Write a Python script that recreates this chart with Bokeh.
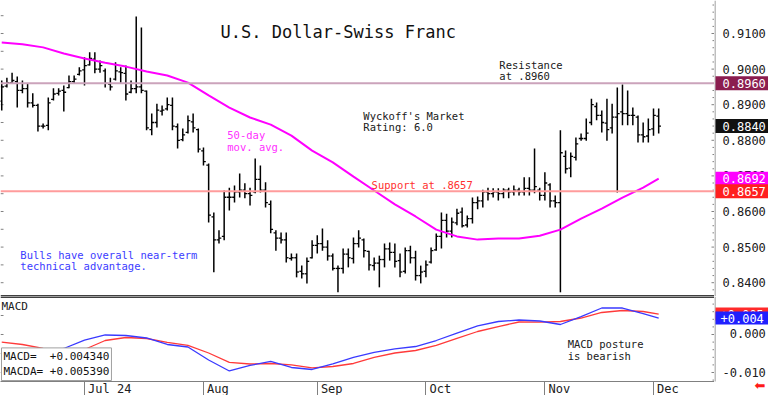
from bokeh.plotting import figure
from bokeh.layouts import column, row
from bokeh.models import (Range1d, FixedTicker, Label, Span)
from bokeh.core.properties import value
from bokeh.embed import file_html
from bokeh.resources import INLINE

# ---------------- data ----------------
# bar index 0 = Jun 10 2024 (weekday count); Jul 1 = 16
highs = [0.8968, 0.8976, 0.8990, 0.8979, 0.8968, 0.8960, 0.8932, 0.8903, 0.8847, 0.8920,
         0.8946, 0.8946, 0.8954, 0.8982, 0.8982, 0.9005, 0.9033, 0.9047, 0.9047, 0.9024,
         0.9002, 0.8976, 0.9019, 0.9005, 0.9010, 0.8968, 0.9148, 0.9117, 0.8940, 0.8875,
         0.8903, 0.8898, 0.8920, 0.8920, 0.8847, 0.8833, 0.8870, 0.8875, 0.8833, 0.8780,
         0.8735, 0.8597, 0.8547, 0.8659, 0.8667, 0.8673, 0.8707, 0.8679, 0.8667, 0.8749,
         0.8729, 0.8682, 0.8631, 0.8547, 0.8541, 0.8541, 0.8482, 0.8482, 0.8448, 0.8471,
         0.8519, 0.8533, 0.8552, 0.8519, 0.8482, 0.8448, 0.8496, 0.8496, 0.8527, 0.8547,
         0.8524, 0.8490, 0.8471, 0.8476, 0.8510, 0.8513, 0.8510, 0.8482, 0.8499, 0.8504,
         0.8490, 0.8448, 0.8462, 0.8499, 0.8538, 0.8597, 0.8594, 0.8583, 0.8608, 0.8611,
         0.8589, 0.8639, 0.8642, 0.8661, 0.8667, 0.8665, 0.8665, 0.8665, 0.8667, 0.8673,
         0.8667, 0.8696, 0.8696, 0.8777, 0.8667, 0.8710, 0.8679, 0.8645, 0.8828, 0.8771,
         0.8766, 0.8808, 0.8819, 0.8861, 0.8917, 0.8906, 0.8884, 0.8917, 0.8903, 0.8948,
         0.8957, 0.8940, 0.8892, 0.8870, 0.8850, 0.8861, 0.8889, 0.8889]
lows = [0.8884, 0.8948, 0.8960, 0.8892, 0.8932, 0.8892, 0.8892, 0.8825, 0.8833, 0.8828,
        0.8912, 0.8926, 0.8881, 0.8946, 0.8960, 0.8982, 0.8954, 0.9010, 0.8988, 0.8990,
        0.8948, 0.8940, 0.8968, 0.8962, 0.8912, 0.8932, 0.8932, 0.8932, 0.8828, 0.8814,
        0.8836, 0.8870, 0.8884, 0.8828, 0.8777, 0.8797, 0.8819, 0.8822, 0.8766, 0.8729,
        0.8569, 0.8429, 0.8510, 0.8519, 0.8603, 0.8625, 0.8639, 0.8637, 0.8617, 0.8651,
        0.8653, 0.8611, 0.8539, 0.8490, 0.8510, 0.8457, 0.8462, 0.8415, 0.8412, 0.8398,
        0.8468, 0.8482, 0.8490, 0.8462, 0.8434, 0.8373, 0.8426, 0.8443, 0.8454, 0.8499,
        0.8471, 0.8434, 0.8434, 0.8387, 0.8443, 0.8462, 0.8443, 0.8415, 0.8426, 0.8454,
        0.8406, 0.8398, 0.8415, 0.8454, 0.8490, 0.8496, 0.8527, 0.8527, 0.8561, 0.8555,
        0.8555, 0.8566, 0.8606, 0.8611, 0.8631, 0.8639, 0.8631, 0.8637, 0.8637, 0.8645,
        0.8645, 0.8645, 0.8645, 0.8651, 0.8631, 0.8631, 0.8611, 0.8611, 0.8373, 0.8707,
        0.8696, 0.8743, 0.8799, 0.8799, 0.8842, 0.8856, 0.8822, 0.8799, 0.8819, 0.8653,
        0.8842, 0.8842, 0.8842, 0.8794, 0.8794, 0.8794, 0.8813, 0.8819]
opens = [0.8910, 0.8952, 0.8962, 0.8965, 0.8940, 0.8945, 0.8905, 0.8898, 0.8840, 0.8842,
         0.8915, 0.8932, 0.8940, 0.8948, 0.8965, 0.8985, 0.8998, 0.9012, 0.9028, 0.9000,
         0.8995, 0.8958, 0.8972, 0.8992, 0.8988, 0.8935, 0.8945, 0.8950, 0.8938, 0.8830,
         0.8850, 0.8882, 0.8888, 0.8898, 0.8838, 0.8802, 0.8822, 0.8852, 0.8830, 0.8770,
         0.8730, 0.8585, 0.8520, 0.8530, 0.8640, 0.8640, 0.8655, 0.8660, 0.8650, 0.8655,
         0.8690, 0.8660, 0.8620, 0.8540, 0.8525, 0.8520, 0.8468, 0.8470, 0.8432, 0.8425,
         0.8470, 0.8505, 0.8510, 0.8500, 0.8475, 0.8440, 0.8440, 0.8480, 0.8468, 0.8510,
         0.8520, 0.8488, 0.8448, 0.8455, 0.8465, 0.8495, 0.8485, 0.8462, 0.8432, 0.8490,
         0.8470, 0.8420, 0.8432, 0.8458, 0.8492, 0.8530, 0.8575, 0.8545, 0.8568, 0.8598,
         0.8562, 0.8580, 0.8625, 0.8630, 0.8655, 0.8650, 0.8655, 0.8650, 0.8660, 0.8655,
         0.8660, 0.8655, 0.8665, 0.8660, 0.8660, 0.8645, 0.8675, 0.8630, 0.8625, 0.8755,
         0.8722, 0.8752, 0.8805, 0.8805, 0.8850, 0.8895, 0.8870, 0.8848, 0.8835, 0.8865,
         0.8880, 0.8875, 0.8870, 0.8865, 0.8815, 0.8812, 0.8832, 0.8868]
closes = [0.8950, 0.8962, 0.8968, 0.8940, 0.8945, 0.8905, 0.8898, 0.8840, 0.8840, 0.8905,
          0.8930, 0.8938, 0.8935, 0.8965, 0.8972, 0.8995, 0.9010, 0.9030, 0.9000, 0.9010,
          0.8960, 0.8950, 0.8995, 0.8990, 0.8930, 0.8945, 0.8950, 0.8940, 0.8835, 0.8850,
          0.8885, 0.8885, 0.8900, 0.8840, 0.8800, 0.8815, 0.8855, 0.8835, 0.8775, 0.8740,
          0.8590, 0.8520, 0.8525, 0.8640, 0.8640, 0.8655, 0.8660, 0.8650, 0.8645, 0.8690,
          0.8660, 0.8625, 0.8550, 0.8525, 0.8520, 0.8470, 0.8470, 0.8430, 0.8425, 0.8460,
          0.8505, 0.8510, 0.8500, 0.8475, 0.8440, 0.8440, 0.8480, 0.8470, 0.8510, 0.8525,
          0.8490, 0.8450, 0.8455, 0.8465, 0.8495, 0.8485, 0.8460, 0.8430, 0.8490, 0.8470,
          0.8420, 0.8430, 0.8450, 0.8490, 0.8530, 0.8575, 0.8545, 0.8570, 0.8595, 0.8560,
          0.8580, 0.8625, 0.8630, 0.8655, 0.8650, 0.8655, 0.8650, 0.8660, 0.8655, 0.8660,
          0.8655, 0.8665, 0.8660, 0.8670, 0.8645, 0.8680, 0.8630, 0.8625, 0.8765, 0.8720,
          0.8755, 0.8790, 0.8805, 0.8820, 0.8900, 0.8870, 0.8850, 0.8830, 0.8865, 0.8875,
          0.8875, 0.8870, 0.8870, 0.8815, 0.8810, 0.8830, 0.8870, 0.8840]
bar_index = list(range(len(highs)))

line_index = [0, 4, 8, 12, 16, 20, 24, 28, 32, 36, 40, 44, 48, 52, 56, 60, 64, 68, 72,
              76, 80, 84, 88, 92, 96, 100, 104, 108, 112, 116, 120, 124, 127]
ma50 = [0.9075, 0.9070, 0.9061, 0.9044, 0.9030, 0.9018, 0.9007, 0.8993, 0.8982, 0.8962,
        0.8926, 0.8892, 0.8864, 0.8844, 0.8813, 0.8771, 0.8738, 0.8698, 0.8659, 0.8620,
        0.8586, 0.8549, 0.8530, 0.8521, 0.8524, 0.8524, 0.8532, 0.8549, 0.8580, 0.8608,
        0.8639, 0.8667, 0.8692]
macd = [-0.00395, -0.00421, -0.00552, -0.00368, -0.00150, -0.00013, -0.00026, -0.00092,
        -0.00263, -0.00329, -0.00670, -0.00960, -0.00815, -0.00710, -0.00868, -0.00921,
        -0.00776, -0.00605, -0.00473, -0.00381, -0.00316, -0.00158, 0.00039, 0.00224,
        0.00342, 0.00381, 0.00355, 0.00263, 0.00473, 0.00697, 0.00697, 0.00552, 0.00434]
macda = [-0.00203, -0.00263, -0.00368, -0.00447, -0.00395, -0.00158, -0.00079, -0.00105,
         -0.00210, -0.00289, -0.00487, -0.00736, -0.00776, -0.00763, -0.00802, -0.00881,
         -0.00842, -0.00763, -0.00605, -0.00487, -0.00421, -0.00289, -0.00105, 0.00079,
         0.00210, 0.00329, 0.00324, 0.00342, 0.00434, 0.00579, 0.00631, 0.00605, 0.00539]

month_ticks = [16, 39, 61, 82, 105, 126]
month_labels = ["Jul 24", "Aug", "Sep", "Oct", "Nov", "Dec"]
price_ticks = [0.84, 0.85, 0.86, 0.87, 0.88, 0.89, 0.90, 0.91]
price_tick_labels = ["0.8400", "0.8500", "0.8600", "0.8700", "0.8800", "0.8900", "0.9000", "0.9100"]
price_minor_ticks = [0.836, 0.838, 0.842, 0.844, 0.846, 0.848, 0.852, 0.854, 0.856, 0.858,
                     0.862, 0.864, 0.866, 0.868, 0.872, 0.874, 0.876, 0.878, 0.882, 0.884,
                     0.886, 0.888, 0.892, 0.894, 0.896, 0.898, 0.902, 0.904, 0.906, 0.908,
                     0.912, 0.914, 0.916, 0.918]
price_left_ticks = [0.840, 0.845, 0.850, 0.855, 0.860, 0.865, 0.870, 0.875, 0.880, 0.885,
                    0.890, 0.895, 0.900, 0.905, 0.910, 0.915]
macd_ticks = [-0.01, 0.0]
macd_tick_labels = ["-0.010", "\u00a00.000"]
macd_minor_ticks = [-0.012, -0.008, -0.006, -0.004, -0.002, 0.002, 0.004, 0.006, 0.008]
macd_left_ticks = [-0.010, -0.005, 0.000, 0.005]

resistance = 0.8960
support = 0.8657
last_close = 0.8840
last_ma = 0.8692
last_macd = 0.004340
last_macda = 0.005390

price_tags = [resistance, last_close, last_ma, support]
price_tag_colors = ["#8b1d4f", "#111111", "#ff00ff", "#ff1f1f"]
macd_tags = [last_macda, last_macd]
macd_tag_colors = ["#ff2a2a", "#2020ff"]

# ---------------- layout ----------------
FONT = "DejaVu Sans Mono"
FW = 714
RB = 54
MAIN_H = 296
MACD_H = 85
AX_H = 14
X0, X1 = -0.238, 137.79
AXC = "#808080"
PY0, PY1 = 0.83612, 0.91927
MY0, MY1 = -0.01237, 0.01000
MY0_EXT = MY0 - AX_H * (MY1 - MY0) / MACD_H
UNIT = (X1 - X0) / FW          # data units per pixel along x


def bare(fig):
    fig.outline_line_color = None
    fig.grid.visible = False


def inner_ticks(fig, major, minor):
    # axis ticks pointing into the chart at its right edge
    fig.segment(x0=[X1 - 3 * UNIT] * len(major), y0=major, x1=[X1] * len(major), y1=major,
                line_color=AXC, line_width=1)
    fig.segment(x0=[X1 - 2 * UNIT] * len(minor), y0=minor, x1=[X1] * len(minor), y1=minor,
                line_color=AXC, line_width=1)


# ---- price panel ----
p = figure(frame_width=FW, frame_height=MAIN_H, x_range=Range1d(X0, X1),
           y_range=Range1d(PY0, PY1), output_backend="svg",
           toolbar_location=None, y_axis_location=None, x_axis_location=None,
           min_border_left=0, min_border_right=0, min_border_top=0, min_border_bottom=0)
bare(p)
inner_ticks(p, price_ticks, price_minor_ticks)
p.segment(x0=[X0] * len(price_left_ticks), y0=price_left_ticks,
          x1=[X0 + 3 * UNIT] * len(price_left_ticks), y1=price_left_ticks,
          line_color=AXC, line_width=1)

p.add_layout(Span(location=resistance, dimension="width", line_color="#cba3bb", line_width=2))
p.add_layout(Span(location=support, dimension="width", line_color="#ff9c9c", line_width=2))

p.segment(x0=bar_index, y0=lows, x1=bar_index, y1=highs, line_color="black", line_width=1.5)
p.segment(x0=[i - 0.45 for i in bar_index], y0=opens, x1=bar_index, y1=opens,
          line_color="black", line_width=1.3)
p.segment(x0=bar_index, y0=closes, x1=[i + 0.45 for i in bar_index], y1=closes,
          line_color="black", line_width=1.3)

p.line(line_index, ma50, line_color="#ff00ff", line_width=2)
p.add_layout(Span(location=PY0, dimension="width", line_color="#404040", line_width=3))


def lab(fig, x, y, text, color="#202020", size="10.5px", **kw):
    fig.add_layout(Label(x=x, y=y, text=text, text_color=color, text_font=FONT,
                         text_font_size=size, text_baseline="top", **kw))


lab(p, 42.29, 0.91337, "U.S. Dollar-Swiss Franc", color="#111111", size="17px")
lab(p, 96.2, 0.90270, "Resistance")
lab(p, 96.2, 0.89961, "at .8960")
lab(p, 69.9, 0.88837, "Wyckoff's Market")
lab(p, 69.9, 0.88528, "Rating: 6.0")
lab(p, 43.6, 0.88331, "50-day", color="#ff30ff")
lab(p, 43.6, 0.87994, "mov. avg.", color="#ff30ff")
lab(p, 71.5, 0.86899, "Support at .8657", color="#ff3030")
lab(p, 3.6, 0.84933, "Bulls have overall near-term", color="#3c3cff")
lab(p, 3.6, 0.84624, "technical advantage.", color="#3c3cff")


def strip(height, y_range):
    s = figure(frame_width=RB, frame_height=height, x_range=Range1d(0, RB), y_range=y_range,
               output_backend="svg", toolbar_location=None, x_axis_location=None,
               y_axis_location=None, min_border_left=0, min_border_right=0,
               min_border_top=0, min_border_bottom=0)
    bare(s)
    return s


def scale_text(s, ys, texts, color, x=8):
    s.text(x=[x] * len(ys), y=ys, text=texts, text_font=value(FONT), text_font_size="12px",
           text_color=color, text_baseline="middle", text_align="left")


def tags(s, ys, colors, fmt, h, x=8):
    for yv, c in zip(ys, colors):
        s.rect(x=[RB / 2 + 1], y=[yv], width=RB, height=h, height_units="screen",
               fill_color=c, line_color=None)
        scale_text(s, [yv], [fmt % yv], "white", x=x)


# ---- price scale strip ----
ps = strip(MAIN_H, p.y_range)
ps.segment(x0=[0.5], y0=[PY0], x1=[0.5], y1=[PY1], line_color=AXC, line_width=1)
scale_text(ps, price_ticks, price_tick_labels, "#202020")
tags(ps, price_tags, price_tag_colors, "%.4f", 14)

# ---- MACD panel ----
q = figure(frame_width=FW, frame_height=MACD_H, x_range=p.x_range,
           y_range=Range1d(MY0, MY1), output_backend="svg",
           toolbar_location=None, y_axis_location=None,
           min_border_left=0, min_border_right=0, min_border_top=0, min_border_bottom=AX_H)
bare(q)
inner_ticks(q, macd_ticks, macd_minor_ticks)
q.segment(x0=[X0] * len(macd_left_ticks), y0=macd_left_ticks,
          x1=[X0 + 3 * UNIT] * len(macd_left_ticks), y1=macd_left_ticks,
          line_color=AXC, line_width=1)

xa = q.xaxis[0]
xa.ticker = FixedTicker(ticks=month_ticks, minor_ticks=[])
xa.major_label_overrides = {t: "\u00a0" * (len(s) + 1) + s for t, s in zip(month_ticks, month_labels)}
xa.axis_line_color = AXC
xa.major_tick_line_color = AXC
xa.major_tick_in = 0
xa.major_tick_out = 14
xa.minor_tick_out = 0
xa.major_label_standoff = -14
xa.major_label_text_font = FONT
xa.major_label_text_font_size = "12px"
xa.major_label_text_color = "#202020"

q.add_layout(Span(location=MY1, dimension="width", line_color="#404040", line_width=3))
q.line(line_index, macda, line_color="#ff3a3a", line_width=1.3)
q.line(line_index, macd, line_color="#3a3aff", line_width=1.3)

lab(q, -0.05, 0.00895, "MACD", size="11px")
lab(q, 109.4, -0.00105, "MACD posture")
lab(q, 109.4, -0.00395, "is bearish")
q.add_layout(Label(x=X0, y=MY0,
                   text="MACD=\u00a0\u00a0+0.004340\nMACDA=\u00a0+0.005390",
                   text_font=FONT, text_font_size="11px", text_color="#111111",
                   text_baseline="bottom", text_align="left", x_offset=1, y_offset=1,
                   background_fill_color="white", border_line_color="#a0a0a0", padding=2))

# ---- MACD scale strip ----
qs = strip(MACD_H + AX_H, Range1d(MY0_EXT, MY1))
qs.segment(x0=[0.5], y0=[MY0], x1=[0.5], y1=[MY1], line_color=AXC, line_width=1)
scale_text(qs, macd_ticks, macd_tick_labels, "#202020")
tags(qs, macd_tags, macd_tag_colors, "%+.3f", 13, x=6)
qs.text(x=[40], y=[MY0 - 0.0011], text=["\u2b05"], text_font=value("DejaVu Sans"),
        text_font_size="13px", text_color="#ff1a1a", text_baseline="middle",
        text_align="left")

layout = column(row(p, ps, spacing=0), row(q, qs, spacing=0), spacing=0)
open("out.html", "w").write(file_html(layout, INLINE))
